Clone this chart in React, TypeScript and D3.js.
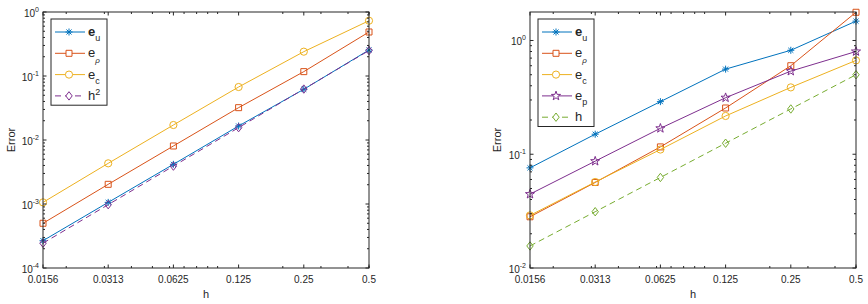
import React from "react";
import * as d3 from "d3";

// mesh sizes and their tick labels
const hValues = [0.015625, 0.03125, 0.0625, 0.125, 0.25, 0.5];
const hTickLabels = ["0.0156", "0.0313", "0.0625", "0.125", "0.25", "0.5"];

// left panel errors
const leftEu = [2.67e-4, 1.06e-3, 4.17e-3, 1.655e-2, 0.062, 0.255];
const leftErho = [5.0e-4, 2.03e-3, 8.06e-3, 0.032, 0.117, 0.487];
const leftEc = [1.06e-3, 4.32e-3, 0.01715, 0.0673, 0.24, 0.731];
const leftH2 = [2.44e-4, 9.77e-4, 3.91e-3, 0.0156, 0.0625, 0.25];

// right panel errors
const rightEu = [0.0759, 0.15, 0.29, 0.56, 0.82, 1.48];
const rightErho = [0.0282, 0.0565, 0.116, 0.255, 0.6, 1.77];
const rightEc = [0.029, 0.057, 0.11, 0.217, 0.387, 0.668];
const rightEp = [0.0446, 0.0869, 0.169, 0.314, 0.538, 0.8];
const rightH = [0.015625, 0.03125, 0.0625, 0.125, 0.25, 0.5];

const FONT = "'Liberation Sans', Arial, Helvetica, sans-serif";
const AXIS = "#262626";

type Series = {
  values: number[];
  color: string;
  marker: "asterisk" | "square" | "circle" | "diamond" | "star";
  dashed?: boolean;
  label: { base: string; sub?: string; sup?: string; bold?: boolean; greek?: boolean };
};

const markerPath = (kind: Series["marker"]) => {
  const p = d3.path();
  if (kind === "asterisk") {
    const r = 3.5, d = r * 0.72;
    p.moveTo(-r, 0); p.lineTo(r, 0);
    p.moveTo(0, -r); p.lineTo(0, r);
    p.moveTo(-d, -d); p.lineTo(d, d);
    p.moveTo(-d, d); p.lineTo(d, -d);
  } else if (kind === "square") {
    p.rect(-3, -3, 6, 6);
  } else if (kind === "circle") {
    p.arc(0, 0, 3.6, 0, Math.PI * 2);
  } else if (kind === "diamond") {
    p.moveTo(0, -4.2); p.lineTo(3.2, 0); p.lineTo(0, 4.2); p.lineTo(-3.2, 0); p.closePath();
  } else {
    for (let i = 0; i < 10; i++) {
      const a = -Math.PI / 2 + (i * Math.PI) / 5;
      const r = i % 2 === 0 ? 4.8 : 1.9;
      if (i === 0) p.moveTo(r * Math.cos(a), r * Math.sin(a));
      else p.lineTo(r * Math.cos(a), r * Math.sin(a));
    }
    p.closePath();
  }
  return p.toString();
};

const Label = ({ l }: { l: Series["label"] }) => (
  <>
    <tspan fontWeight={l.bold ? "bold" : "normal"}>{l.base}</tspan>
    {l.sub && (
      <tspan fontSize={l.greek ? 8 : 9} dy={l.greek ? 6 : 5} fontStyle={l.greek ? "italic" : "normal"}>
        {l.sub}
      </tspan>
    )}
    {l.sup && (
      <tspan fontSize={9} dy={-5}>
        {l.sup}
      </tspan>
    )}
  </>
);

type PanelProps = {
  left: number;
  right: number;
  top: number;
  bottom: number;
  yDomain: [number, number];
  series: Series[];
  legendX: number;
  ylabelX: number;
};

const Panel = ({ left, right, top, bottom, yDomain, series, legendX, ylabelX }: PanelProps) => {
  const x = d3.scaleLog().base(2).domain([hValues[0], hValues[hValues.length - 1]]).range([left, right]);
  const y = d3.scaleLog().domain(yDomain).range([bottom, top]);
  const xMinor = d3.scaleLog().domain(x.domain()).ticks();
  const yTicks = y.ticks();
  const isPow10 = (v: number) => Math.abs(Math.log10(v) - Math.round(Math.log10(v))) < 1e-9;
  const yMajor = yTicks.filter(isPow10);
  const yMinor = yTicks.filter((v) => !isPow10(v));
  const line = d3
    .line<number>()
    .x((_, i) => x(hValues[i]))
    .y((d) => y(d));

  const rowH = 21.3;
  const legTop = 19;
  const legW = 56;
  const legH = series.length * rowH + 1;

  return (
    <g fontFamily={FONT}>
      {/* data lines */}
      {series.map((s, si) => (
        <g key={si}>
          <path
            d={line(s.values) ?? ""}
            fill="none"
            stroke={s.color}
            strokeWidth={1}
            strokeDasharray={s.dashed ? "6,4" : undefined}
          />
          {s.values.map((v, i) => (
            <path
              key={i}
              d={markerPath(s.marker)}
              transform={`translate(${x(hValues[i])},${y(v)})`}
              fill="none"
              stroke={s.color}
              strokeWidth={1}
            />
          ))}
        </g>
      ))}

      {/* axes box */}
      <rect x={left} y={top} width={right - left} height={bottom - top} fill="none" stroke={AXIS} strokeWidth={1} />

      {/* x ticks, bottom and top */}
      {hValues.map((h, i) => (
        <g key={`xm${i}`}>
          <line x1={x(h)} x2={x(h)} y1={bottom} y2={bottom - 3.5} stroke={AXIS} />
          <line x1={x(h)} x2={x(h)} y1={top} y2={top + 3.5} stroke={AXIS} />
          <text x={x(h)} y={283} textAnchor="middle" fontSize={10} fill={AXIS}>
            {hTickLabels[i]}
          </text>
        </g>
      ))}
      {xMinor.map((v, i) => (
        <g key={`xn${i}`}>
          <line x1={x(v)} x2={x(v)} y1={bottom} y2={bottom - 2} stroke={AXIS} />
          <line x1={x(v)} x2={x(v)} y1={top} y2={top + 2} stroke={AXIS} />
        </g>
      ))}

      {/* y ticks, left and right */}
      {yMajor.map((v, i) => (
        <g key={`ym${i}`}>
          <line x1={left} x2={left + 3.5} y1={y(v)} y2={y(v)} stroke={AXIS} />
          <line x1={right} x2={right - 3.5} y1={y(v)} y2={y(v)} stroke={AXIS} />
          <text x={left - 4} y={y(v) + 5} textAnchor="end" fontSize={10} fill={AXIS}>
            <tspan>10</tspan>
            <tspan fontSize={7} dy={-5}>
              {Math.round(Math.log10(v))}
            </tspan>
          </text>
        </g>
      ))}
      {yMinor.map((v, i) => (
        <g key={`yn${i}`}>
          <line x1={left} x2={left + 2} y1={y(v)} y2={y(v)} stroke={AXIS} />
          <line x1={right} x2={right - 2} y1={y(v)} y2={y(v)} stroke={AXIS} />
        </g>
      ))}

      {/* axis labels */}
      <text x={(left + right) / 2} y={298} textAnchor="middle" fontSize={11} fill={AXIS}>
        h
      </text>
      <text
        transform={`translate(${ylabelX},${(top + bottom) / 2}) rotate(-90)`}
        textAnchor="middle"
        fontSize={11}
        fill={AXIS}
      >
        Error
      </text>

      {/* legend */}
      <rect x={legendX} y={legTop} width={legW} height={legH} fill="white" stroke={AXIS} strokeWidth={1} />
      {series.map((s, i) => {
        const cy = legTop + 13 + i * rowH;
        return (
          <g key={`lg${i}`}>
            <line
              x1={legendX + 4}
              x2={legendX + 34}
              y1={cy}
              y2={cy}
              stroke={s.color}
              strokeDasharray={s.dashed ? "6,4" : undefined}
            />
            <path
              d={markerPath(s.marker)}
              transform={`translate(${legendX + 18},${cy})`}
              fill="white"
              stroke={s.color}
            />
            <text x={legendX + 37} y={cy + 4} fontSize={13} fill={AXIS}>
              <Label l={s.label} />
            </text>
          </g>
        );
      })}
    </g>
  );
};

const blue = "#0072BD";
const orange = "#D95319";
const yellow = "#EDB120";
const purple = "#7E2F8E";
const green = "#77AC30";

const leftSeries: Series[] = [
  { values: leftEu, color: blue, marker: "asterisk", label: { base: "e", sub: "u", bold: true } },
  { values: leftErho, color: orange, marker: "square", label: { base: "e", sub: "ρ", greek: true } },
  { values: leftEc, color: yellow, marker: "circle", label: { base: "e", sub: "c" } },
  { values: leftH2, color: purple, marker: "diamond", dashed: true, label: { base: "h", sup: "2" } },
];

const rightSeries: Series[] = [
  { values: rightEu, color: blue, marker: "asterisk", label: { base: "e", sub: "u", bold: true } },
  { values: rightErho, color: orange, marker: "square", label: { base: "e", sub: "ρ", greek: true } },
  { values: rightEc, color: yellow, marker: "circle", label: { base: "e", sub: "c" } },
  { values: rightEp, color: purple, marker: "star", label: { base: "e", sub: "p" } },
  { values: rightH, color: green, marker: "diamond", dashed: true, label: { base: "h" } },
];

export default function App() {
  return (
    <svg
      width={868}
      height={304}
      style={{ position: "absolute", left: 0, top: 0, background: "white" }}
    >
      <Panel
        left={43}
        right={369}
        top={12}
        bottom={268}
        yDomain={[1e-4, 1]}
        series={leftSeries}
        legendX={51}
        ylabelX={15}
      />
      <Panel
        left={530}
        right={856}
        top={12}
        bottom={268}
        yDomain={[0.01, 1.78]}
        series={rightSeries}
        legendX={538}
        ylabelX={501}
      />
    </svg>
  );
}
